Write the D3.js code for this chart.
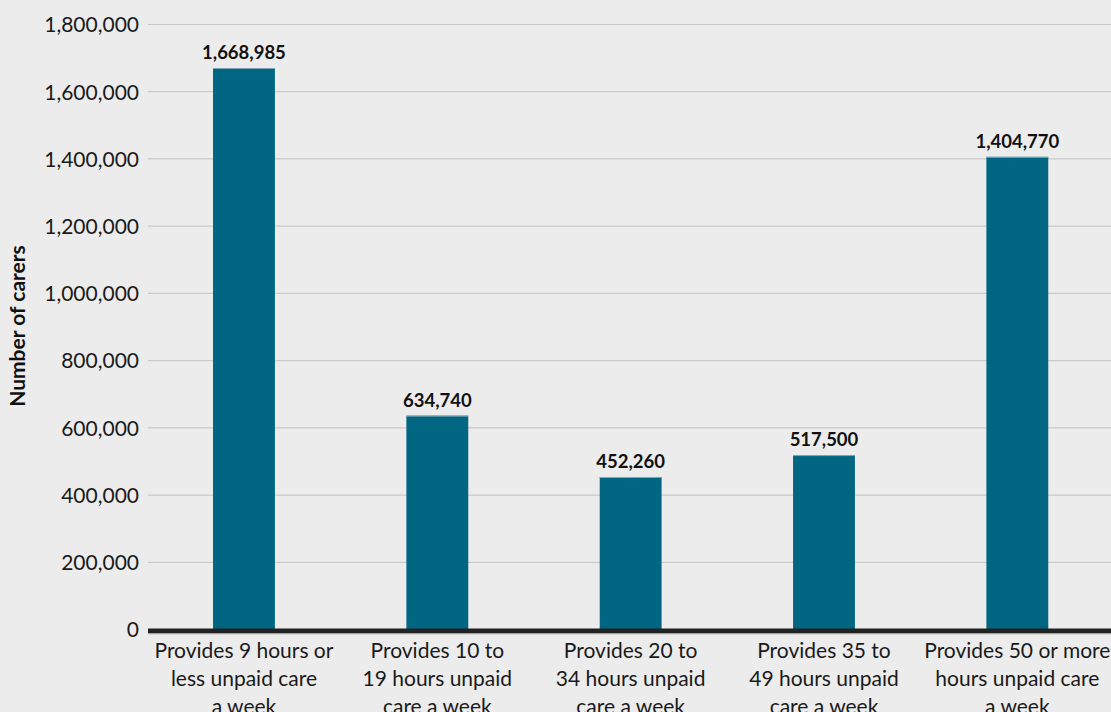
<!DOCTYPE html>
<html><head><meta charset="utf-8">
<script src="https://cdn.jsdelivr.net/npm/d3@7"></script>
<style>
html,body{margin:0;padding:0;background:#ececec;}
svg{display:block;font-family:Lato,"Open Sans",sans-serif;}
</style></head>
<body>
<svg id="chart" width="1111" height="712"></svg>
<script>
const categories = [
  ["Provides 9 hours or","less unpaid care","a week"],
  ["Provides 10 to","19 hours unpaid","care a week"],
  ["Provides 20 to","34 hours unpaid","care a week"],
  ["Provides 35 to","49 hours unpaid","care a week"],
  ["Provides 50 or more","hours unpaid care","a week"]
];
const values = [1668985, 634740, 452260, 517500, 1404770];
const yTicks = [0,200000,400000,600000,800000,1000000,1200000,1400000,1600000,1800000];
const yTitle = "Number of carers";

const svg = d3.select("#chart");
const W = 1111, H = 712;
const m = {left:148, top:24, bottom:83};
const x = d3.scaleBand().domain(d3.range(values.length)).range([147.3, 1114]).paddingInner(0.68).paddingOuter(0.34);
const y = d3.scaleLinear().domain([0,1800000]).range([H - m.bottom, m.top]);
const fmt = d3.format(",");

svg.append("rect").attr("width",W).attr("height",H).attr("fill","#ececec");

// gridlines
svg.append("g").selectAll("line").data(yTicks.filter(d=>d>0)).join("line")
  .attr("x1", m.left).attr("x2", W).attr("y1", d=>y(d)+0.5).attr("y2", d=>y(d)+0.5)
  .attr("stroke","#c9c9c9").attr("stroke-width",1.2);

// y tick labels
svg.append("g").selectAll("text").data(yTicks).join("text")
  .attr("x", 139).attr("y", d=>y(d)+1).attr("dy","0.35em")
  .attr("text-anchor","end").attr("font-size",21).attr("fill","#1a1a1a")
  .text(d=>fmt(d));

// y title
svg.append("text").attr("transform",`translate(25,326) rotate(-90)`)
  .attr("text-anchor","middle").attr("font-size",21).attr("font-weight","bold").attr("fill","#111")
  .text(yTitle);

// bars
svg.append("g").selectAll("rect").data(values).join("rect")
  .attr("x",(d,i)=>x(i)).attr("width",x.bandwidth())
  .attr("y",d=>y(d)).attr("height",d=>y(0)-y(d))
  .attr("fill","#006682");
svg.append("g").selectAll("line").data(values).join("line")
  .attr("x1",(d,i)=>x(i)).attr("x2",(d,i)=>x(i)+x.bandwidth())
  .attr("y1",d=>y(d)+0.5).attr("y2",d=>y(d)+0.5)
  .attr("stroke","#7fa9b8").attr("stroke-width",1);

// value labels
svg.append("g").selectAll("text").data(values).join("text")
  .attr("x",(d,i)=>x(i)+x.bandwidth()/2).attr("y",d=>y(d)-9)
  .attr("text-anchor","middle").attr("font-size",18.5).attr("font-weight","bold").attr("fill","#111")
  .text(d=>fmt(d));

// zero axis line
svg.append("line").attr("x1",m.left).attr("x2",W).attr("y1",y(0)+2).attr("y2",y(0)+2)
  .attr("stroke","#222").attr("stroke-width",5);
svg.append("line").attr("x1",m.left).attr("x2",W).attr("y1",y(0)+5).attr("y2",y(0)+5)
  .attr("stroke","#bdbdbd").attr("stroke-width",1);

// x labels
const xl = svg.append("g").selectAll("text").data(categories).join("text")
  .attr("x",(d,i)=>x(i)+x.bandwidth()/2).attr("y",y(0)+29)
  .attr("text-anchor","middle").attr("font-size",21).attr("fill","#1a1a1a");
xl.selectAll("tspan").data(d=>d).join("tspan")
  .attr("x",function(){return this.parentNode.getAttribute("x");})
  .attr("dy",(d,i)=>i===0?0:28).text(d=>d);
</script>
</body></html>
